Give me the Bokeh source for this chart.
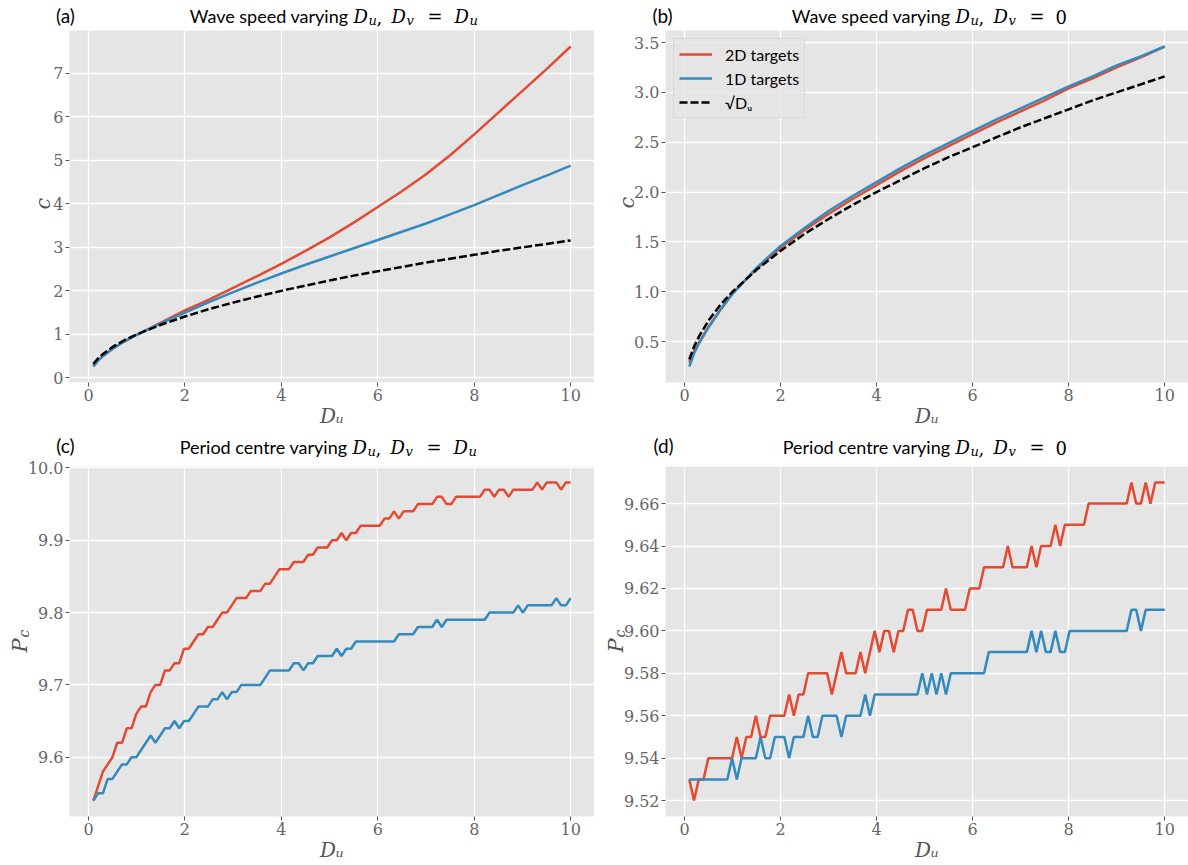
import math
import numpy as np
from bokeh.plotting import figure
from bokeh.models import Label, FixedTicker, PrintfTickFormatter, Range1d, Legend, LegendItem
from bokeh.layouts import column, row
from bokeh.embed import file_html
from bokeh.resources import INLINE

# ---------------- data ----------------
du_s = [0.1, 0.2, 0.3, 0.5, 0.75, 1.0, 1.5, 2.0, 2.5, 3.0, 3.5, 4.0, 4.5, 5.0,
        5.5, 6.0, 6.5, 7.0, 7.5, 8.0, 8.5, 9.0, 9.5, 10.0]
c_a_2d = [0.27, 0.40, 0.50, 0.67, 0.84, 0.99, 1.27, 1.55, 1.80, 2.07, 2.34, 2.62,
          2.92, 3.23, 3.57, 3.93, 4.29, 4.68, 5.12, 5.60, 6.10, 6.60, 7.10, 7.62]
c_a_1d = [0.26, 0.40, 0.50, 0.67, 0.84, 0.99, 1.25, 1.50, 1.74, 1.97, 2.19, 2.40,
          2.60, 2.79, 2.98, 3.17, 3.36, 3.55, 3.76, 3.97, 4.20, 4.43, 4.65, 4.88]
sqrt_du = [0.32, 0.45, 0.55, 0.71, 0.87, 1.00, 1.22, 1.41, 1.58, 1.73, 1.87, 2.00,
           2.12, 2.24, 2.35, 2.45, 2.55, 2.65, 2.74, 2.83, 2.92, 3.00, 3.08, 3.16]
c_b_2d = [0.29, 0.40, 0.49, 0.65, 0.82, 0.98, 1.23, 1.44, 1.62, 1.78, 1.93, 2.07,
          2.21, 2.34, 2.46, 2.58, 2.70, 2.81, 2.92, 3.04, 3.14, 3.25, 3.35, 3.46]
c_b_1d = [0.25, 0.38, 0.48, 0.64, 0.82, 0.98, 1.24, 1.46, 1.64, 1.81, 1.96, 2.10,
          2.24, 2.37, 2.49, 2.61, 2.73, 2.84, 2.95, 3.06, 3.16, 3.27, 3.36, 3.46]

du_grid = np.linspace(0.1, 10.0, 101)

pc_c_2d = [9.54, 9.56, 9.58, 9.59, 9.60, 9.62, 9.62, 9.64, 9.64, 9.66,
           9.67, 9.67, 9.69, 9.70, 9.70, 9.72, 9.72, 9.73, 9.73, 9.75,
           9.75, 9.76, 9.77, 9.77, 9.78, 9.78, 9.79, 9.80, 9.80, 9.81,
           9.82, 9.82, 9.82, 9.83, 9.83, 9.83, 9.84, 9.84, 9.85, 9.86,
           9.86, 9.86, 9.87, 9.87, 9.87, 9.88, 9.88, 9.89, 9.89, 9.89,
           9.90, 9.90, 9.91, 9.90, 9.91, 9.91, 9.92, 9.92, 9.92, 9.92,
           9.92, 9.93, 9.93, 9.94, 9.93, 9.94, 9.94, 9.94, 9.95, 9.95,
           9.95, 9.95, 9.96, 9.96, 9.95, 9.95, 9.96, 9.96, 9.96, 9.96,
           9.96, 9.96, 9.97, 9.97, 9.96, 9.97, 9.97, 9.96, 9.97, 9.97,
           9.97, 9.97, 9.97, 9.98, 9.97, 9.98, 9.98, 9.98, 9.97, 9.98, 9.98]
pc_c_1d = [9.54, 9.55, 9.55, 9.57, 9.57, 9.58, 9.59, 9.59, 9.60, 9.60,
           9.61, 9.62, 9.63, 9.62, 9.63, 9.64, 9.64, 9.65, 9.64, 9.65,
           9.65, 9.66, 9.67, 9.67, 9.67, 9.68, 9.68, 9.69, 9.68, 9.69,
           9.69, 9.70, 9.70, 9.70, 9.70, 9.70, 9.71, 9.72, 9.72, 9.72,
           9.72, 9.72, 9.73, 9.73, 9.72, 9.73, 9.73, 9.74, 9.74, 9.74,
           9.74, 9.75, 9.74, 9.75, 9.75, 9.76, 9.76, 9.76, 9.76, 9.76,
           9.76, 9.76, 9.76, 9.76, 9.77, 9.77, 9.77, 9.77, 9.78, 9.78,
           9.78, 9.78, 9.79, 9.78, 9.79, 9.79, 9.79, 9.79, 9.79, 9.79,
           9.79, 9.79, 9.79, 9.80, 9.80, 9.80, 9.80, 9.80, 9.80, 9.81,
           9.80, 9.81, 9.81, 9.81, 9.81, 9.81, 9.81, 9.82, 9.81, 9.81, 9.82]
pc_d_2d = [9.53, 9.52, 9.53, 9.53, 9.54, 9.54, 9.54, 9.54, 9.54, 9.54,
           9.55, 9.54, 9.55, 9.55, 9.56, 9.55, 9.55, 9.56, 9.56, 9.56,
           9.56, 9.57, 9.56, 9.57, 9.57, 9.58, 9.58, 9.58, 9.58, 9.58,
           9.57, 9.58, 9.59, 9.58, 9.58, 9.58, 9.59, 9.58, 9.59, 9.60,
           9.59, 9.60, 9.60, 9.59, 9.60, 9.60, 9.61, 9.61, 9.60, 9.60,
           9.61, 9.61, 9.61, 9.61, 9.62, 9.61, 9.61, 9.61, 9.61, 9.62,
           9.62, 9.62, 9.63, 9.63, 9.63, 9.63, 9.63, 9.64, 9.63, 9.63,
           9.63, 9.63, 9.64, 9.63, 9.64, 9.64, 9.64, 9.65, 9.64, 9.65,
           9.65, 9.65, 9.65, 9.65, 9.66, 9.66, 9.66, 9.66, 9.66, 9.66,
           9.66, 9.66, 9.66, 9.67, 9.66, 9.66, 9.67, 9.66, 9.67, 9.67, 9.67]
pc_d_1d = [9.53, 9.53, 9.53, 9.53, 9.53, 9.53, 9.53, 9.53, 9.53, 9.54,
           9.53, 9.54, 9.54, 9.54, 9.54, 9.55, 9.54, 9.54, 9.55, 9.55,
           9.55, 9.54, 9.55, 9.55, 9.55, 9.56, 9.55, 9.55, 9.56, 9.56,
           9.56, 9.56, 9.55, 9.56, 9.56, 9.56, 9.56, 9.57, 9.56, 9.57,
           9.57, 9.57, 9.57, 9.57, 9.57, 9.57, 9.57, 9.57, 9.57, 9.58,
           9.57, 9.58, 9.57, 9.58, 9.57, 9.58, 9.58, 9.58, 9.58, 9.58,
           9.58, 9.58, 9.58, 9.59, 9.59, 9.59, 9.59, 9.59, 9.59, 9.59,
           9.59, 9.59, 9.60, 9.59, 9.60, 9.59, 9.59, 9.60, 9.59, 9.59,
           9.60, 9.60, 9.60, 9.60, 9.60, 9.60, 9.60, 9.60, 9.60, 9.60,
           9.60, 9.60, 9.60, 9.61, 9.61, 9.60, 9.61, 9.61, 9.61, 9.61, 9.61]

x_ticks = [0, 2, 4, 6, 8, 10]
a_yticks = [0, 1, 2, 3, 4, 5, 6, 7]
b_yticks = [0.5, 1.0, 1.5, 2.0, 2.5, 3.0, 3.5]
c_yticks = [9.6, 9.7, 9.8, 9.9, 10.0]
d_yticks = [9.52, 9.54, 9.56, 9.58, 9.60, 9.62, 9.64, 9.66]

RED = "#E24A33"
BLUE = "#348ABD"
GRAY = "#555555"
TICKGRAY = "#666666"
SERIF = "DejaVu Serif"
SANS = "Lato"
LW = 2.5
XR = (-0.395, 10.495)


def blank(w, h, bt=0, bb=0, **kw):
    return figure(frame_width=w, frame_height=h, x_range=Range1d(0, w), y_range=Range1d(0, h),
                  x_axis_type=None, y_axis_type=None, output_backend="svg",
                  toolbar_location=None, tools="", min_border_left=0, min_border_right=0,
                  min_border_top=bt, min_border_bottom=bb, outline_line_color=None,
                  background_fill_color=None, border_fill_color=None, **kw)


def txt(f, x, y, s, font=SERIF, size="18px", style="normal", color="black",
        align="left", angle=0.0):
    f.add_layout(Label(x=x, y=y, text=s, text_font=font, text_font_size=size,
                       text_font_style=style, text_color=color, text_align=align,
                       text_baseline="middle", angle=angle))


def header(w, h, letter, letter_y, junction, base_y, sans_text, rhs, letter_x=65):
    # base_y: text baseline height above the bottom of the header strip
    f = blank(w, h)
    txt(f, letter_x, letter_y, letter, font=SANS, size="19px", align="center")
    txt(f, junction - 1, base_y + 7, sans_text, font=SANS, size="18px", align="right")
    J = junction
    my = base_y + 6
    sy = base_y + 2
    txt(f, J + 4, my, "D", style="italic")
    txt(f, J + 19, sy, "u", size="13px", style="italic")
    txt(f, J + 27, my, ",")
    txt(f, J + 42, my, "D", style="italic")
    txt(f, J + 57, sy, "v", size="13px", style="italic")
    txt(f, J + 78, my, "=")
    if rhs == "Du":
        txt(f, J + 105, my, "D", style="italic")
        txt(f, J + 120, sy, "u", size="13px", style="italic")
    else:
        txt(f, J + 104, my, "0")
    return f


def ylab(w, fh, bt, bb, x, y, main, sub=None, margin=None):
    f = blank(w, fh, bt, bb, margin=margin)
    txt(f, x, y, main, size="21px", style="italic", color=GRAY, align="center",
        angle=math.pi / 2)
    if sub:
        txt(f, x + 4, y + 12, sub, size="14px", style="italic", color=GRAY,
            align="center", angle=math.pi / 2)
    return f


def make_fig(yr, fw, fh, bl, bt, bb, yticks, yfmt):
    p = figure(frame_width=fw, frame_height=fh,
               x_range=Range1d(*XR), y_range=Range1d(*yr),
               output_backend="svg", toolbar_location=None, tools="",
               min_border_left=bl, min_border_right=0,
               min_border_top=bt, min_border_bottom=bb,
               background_fill_color="#E5E5E5", border_fill_color=None,
               outline_line_color=None)
    p.xaxis.ticker = FixedTicker(ticks=x_ticks)
    p.yaxis.ticker = FixedTicker(ticks=yticks)
    p.yaxis.formatter = PrintfTickFormatter(format=yfmt)
    p.xaxis.formatter = PrintfTickFormatter(format="%d")
    for ax in [p.xaxis[0], p.yaxis[0]]:
        ax.axis_line_color = None
        ax.major_tick_line_color = GRAY
        ax.minor_tick_line_color = None
        ax.major_tick_out = 4
        ax.major_tick_in = 0
        ax.major_label_text_font = SERIF
        ax.major_label_text_font_size = "16px"
        ax.major_label_text_color = TICKGRAY
        ax.major_label_standoff = 2
    xa = p.xaxis[0]
    xa.axis_label = "D\u1d64"
    xa.axis_label_text_font = SERIF
    xa.axis_label_text_font_style = "italic"
    xa.axis_label_text_font_size = "20px"
    xa.axis_label_text_color = GRAY
    xa.axis_label_standoff = 0
    p.grid.grid_line_color = "white"
    p.grid.grid_line_width = 1.3
    return p


# ---- (a) ----
fa = make_fig((-0.108, 7.988), 525, 352, 21, 0, 50, a_yticks, "%d")
fa.line(du_s, c_a_2d, color=RED, line_width=LW)
fa.line(du_s, c_a_1d, color=BLUE, line_width=LW)
fa.line(du_s, sqrt_du, color="black", line_width=LW, line_dash="8 3")
ha = header(594, 30, "(a)", 15, 349, 8, "Wave speed varying", "Du")
ya = ylab(58, 352, 0, 50, 42, 179, "c", margin=(0, -10, 0, 0))

# ---- (b) ----
fb = make_fig((0.0895, 3.6205), 523, 352, 35, 0, 50, b_yticks, "%.1f")
r1 = fb.line(du_s, c_b_2d, color=RED, line_width=LW)
r2 = fb.line(du_s, c_b_1d, color=BLUE, line_width=LW)
r3 = fb.line(du_s, sqrt_du, color="black", line_width=LW, line_dash="8 3")
leg = Legend(items=[LegendItem(label="2D targets", renderers=[r1]),
                    LegendItem(label="1D targets", renderers=[r2]),
                    LegendItem(label="\u221aD\u1d64", renderers=[r3])],
             location="top_left")
leg.background_fill_color = "#E5E5E5"
leg.background_fill_alpha = 0.8
leg.border_line_color = "#CCCCCC"
leg.border_line_width = 1
leg.label_text_font = SANS
leg.label_text_font_size = "16px"
leg.label_text_color = "black"
leg.glyph_width = 33
leg.glyph_height = 20
leg.label_height = 20
leg.spacing = 4
leg.padding = 5
leg.margin = 8
leg.label_standoff = 13
fb.add_layout(leg)
hb = header(594, 30, "(b)", 15, 357, 8, "Wave speed varying", "0", letter_x=68)
yb = ylab(46, 352, 0, 50, 32, 180, "c", margin=(0, -10, 0, 0))

# ---- (c) ----
fc = make_fig((9.518, 10.002), 525, 350, 46, 6, 49, c_yticks, "%.1f")
fc.line(du_grid, pc_c_2d, color=RED, line_width=LW)
fc.line(du_grid, pc_c_1d, color=BLUE, line_width=LW)
hc = header(594, 28, "(c)", 15, 348, 7, "Period centre varying", "Du")
yc = ylab(33, 350, 6, 49, 19, 171, "P", "c", margin=(0, -10, 0, 0))

# ---- (d) ----
fd = make_fig((9.5125, 9.6775), 523, 350, 46, 6, 49, d_yticks, "%.2f")
fd.line(du_grid, pc_d_2d, color=RED, line_width=LW)
fd.line(du_grid, pc_d_1d, color=BLUE, line_width=LW)
hd = header(594, 28, "(d)", 15, 357, 7, "Period centre varying", "0", letter_x=69)
yd = ylab(35, 350, 6, 49, 21, 171, "P", "c", margin=(0, -10, 0, 0))

layout = column(row(column(ha, row(ya, fa)), column(hb, row(yb, fb))),
                row(column(hc, row(yc, fc)), column(hd, row(yd, fd))))
open("out.html", "w").write(file_html(layout, INLINE))
